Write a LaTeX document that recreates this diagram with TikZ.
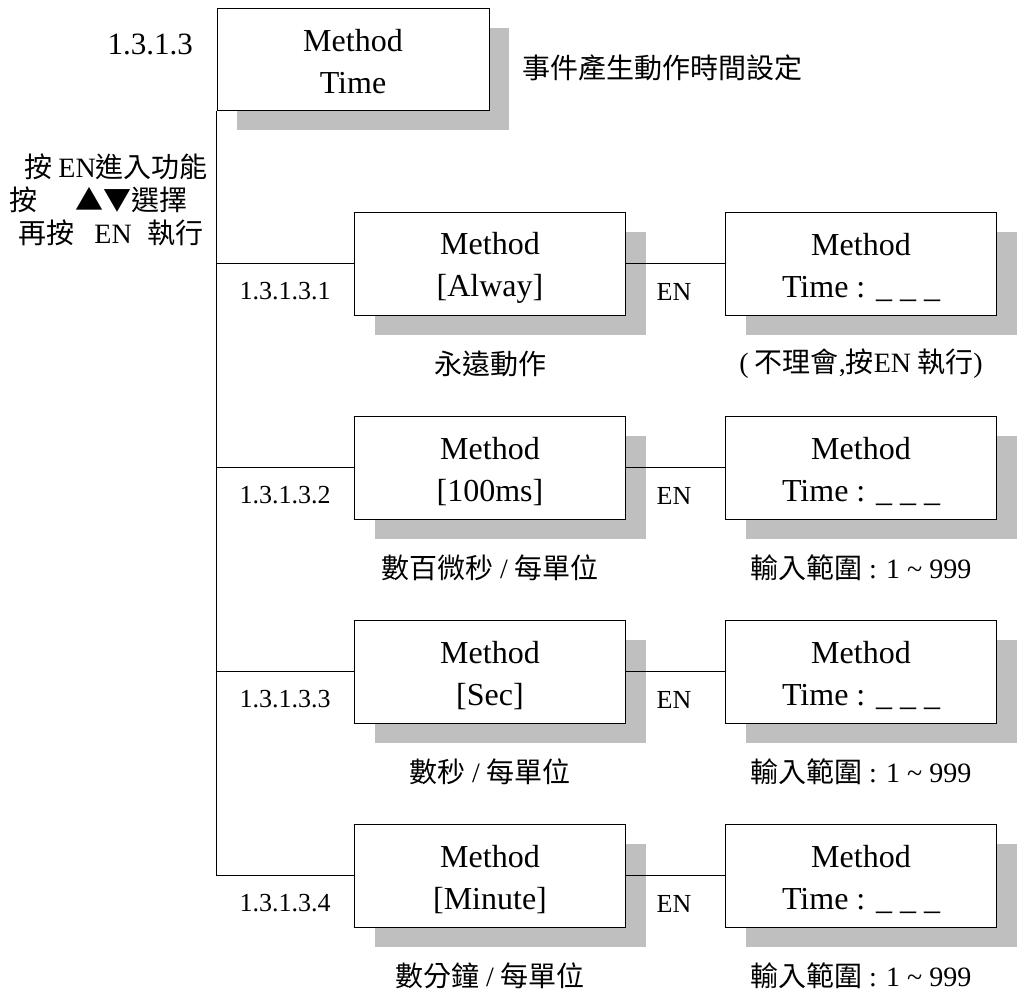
\documentclass[tikz,border=0pt]{standalone}
\usepackage{fontspec}
\setmainfont{Liberation Serif}
\newfontfamily\cjk{Noto Sans CJK TC}
\usetikzlibrary{shadows}
\definecolor{shadowgray}{RGB}{191,191,191}
\newcommand{\firstline}[1]{#1\rule{0pt}{31pt}}
\tikzset{
  menubox/.style={draw=black, line width=1pt, fill=white, minimum width=271pt,
    minimum height=103pt, inner sep=0pt, align=center,
    font=\fontsize{32}{42}\selectfont,
    drop shadow={shadow xshift=20pt, shadow yshift=-20pt, fill=shadowgray, opacity=1}},
  numlabel/.style={font=\fontsize{26}{30}\selectfont, inner sep=0pt},
  cjklabel/.style={font=\fontsize{28}{32}\selectfont\cjk, inner sep=0pt},
  link/.style={draw=black, line width=1pt}
}
\begin{document}
\begin{tikzpicture}[x=1pt,y=-1pt]
\useasboundingbox (0,0) rectangle (1017,994);
% top box
\node[menubox, minimum width=272pt, minimum height=102pt] (top) at (353,59) {\firstline{Method}\\Time\vphantom{[]}};
\node[font=\fontsize{31}{36}\selectfont, inner sep=0pt, anchor=east] (toplbl) at (193,44) {1.3.1.3};
\node[cjklabel, anchor=west] (topdesc) at (522,68) {事件產生動作時間設定};
% left instructions
\node[cjklabel, anchor=east] (ins1) at (208,167) {按 {\rmfamily EN}進入功能};
\node[cjklabel, anchor=east] (ins2) at (188,200) {按\hspace{38pt}▲▼選擇};
\node[cjklabel, anchor=east] (ins3) at (204,233) {再按\hspace{20pt}{\rmfamily EN}\hspace{16pt}執行};
% rows
\foreach \r/\opt/\leftdesc/\rightdesc in {
  1/Alway/{永遠動作}/{{\rmfamily(} 不理會{\rmfamily,}按{\rmfamily EN} 執行{\rmfamily)}},
  2/100ms/{數百微秒 {\rmfamily /} 每單位}/{輸入範圍 {\rmfamily : 1 \textasciitilde\ 999}},
  3/Sec/{數秒 {\rmfamily /} 每單位}/{輸入範圍 {\rmfamily : 1 \textasciitilde\ 999}},
  4/Minute/{數分鐘 {\rmfamily /} 每單位}/{輸入範圍 {\rmfamily : 1 \textasciitilde\ 999}}} {
  \pgfmathsetmacro{\yc}{263.5+204*(\r-1)}
  \node[menubox] (b\r) at (490,\yc) {\firstline{Method}\\{[}\opt{]}};
  \node[menubox] (c\r) at (861,\yc) {\firstline{Method}\\Time : \_ \_ \_\vphantom{[]}};
  \node[numlabel] (n\r) at (285,\yc+28) {1.3.1.3.\r};
  \node[numlabel] (e\r) at (674,\yc+28) {EN};
  \node[cjklabel] (d\r) at (490,\yc+100) {\leftdesc};
  \node[cjklabel] (f\r) at (861,\yc+100) {\rightdesc};
  \draw[link] (b\r.east) -- (c\r.west);
  \draw[link] (b\r.west) -- (top.south west |- b\r.west);
}
\draw[link] (top.south west) -- (top.south west |- b4.west);
\end{tikzpicture}
\end{document}
